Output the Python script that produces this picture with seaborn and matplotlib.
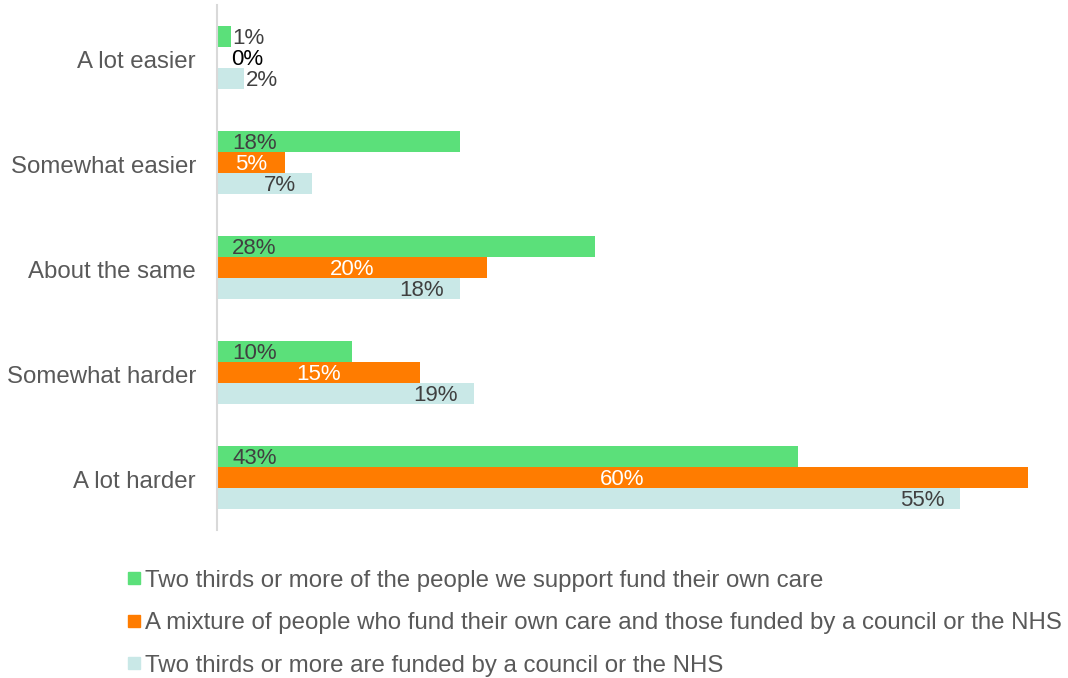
import matplotlib
matplotlib.use("Agg")
import matplotlib.pyplot as plt
from matplotlib.lines import Line2D
import seaborn as sns
import pandas as pd

categories = ["A lot easier", "Somewhat easier", "About the same", "Somewhat harder", "A lot harder"]
series_names = [
    "Two thirds or more of the people we support fund their own care",
    "A mixture of people who fund their own care and those funded by a council or the NHS",
    "Two thirds or more are funded by a council or the NHS",
]
self_funded = [1, 18, 28, 10, 43]
mixed = [0, 5, 20, 15, 60]
council_nhs = [2, 7, 18, 19, 55]

colors = ["#5BE07A", "#FF7C00", "#C9E8E7"]
label_colors = ["#404040", "#FFFFFF", "#404040"]
text_gray = "#595959"

rows = []
for name, vals in zip(series_names, [self_funded, mixed, council_nhs]):
    for cat, v in zip(categories, vals):
        rows.append({"category": cat, "series": name, "value": v})
df = pd.DataFrame(rows)

sns.set_theme(style="white")
plt.rcParams["font.family"] = ["Liberation Sans", "DejaVu Sans"]

fig = plt.figure(figsize=(10.68, 6.78), dpi=100)
ax = fig.add_axes([0.2032, 0.2183, 0.7593, 0.7743])

sns.barplot(data=df, y="category", x="value", hue="series", order=categories,
            hue_order=series_names, palette=colors, orient="h", width=0.6,
            saturation=1, linewidth=0, ax=ax, legend=False)

ax.set_xlim(0, 60)
ax.set_ylim(4.5, -0.5)
ax.set_xlabel("")
ax.set_ylabel("")
ax.set_xticks([])
ax.tick_params(axis="y", length=0, labelleft=False)
for side in ["top", "right", "bottom"]:
    ax.spines[side].set_visible(False)
ax.spines["left"].set_color("#D9D9D9")
ax.spines["left"].set_linewidth(1.5)

# category names to the left of the axis line
for i, cat in enumerate(categories):
    ax.annotate(cat, (0, i), xycoords=("axes fraction", "data"), xytext=(-21, -2),
                textcoords="offset pixels", ha="right", va="center_baseline",
                fontsize=17.3, color=text_gray)

# value labels: first series at the bar base, second centred, third at the bar end
label_size = 16
dy = -2
for s_idx, (vals, lc) in enumerate(zip([self_funded, mixed, council_nhs], label_colors)):
    offset = (s_idx - 1) * 0.2
    for c_idx, v in enumerate(vals):
        y = c_idx + offset
        txt = f"{v}%"
        if s_idx == 0:
            ax.annotate(txt, (0, y), xytext=(15, dy), textcoords="offset pixels",
                        ha="left", va="center", fontsize=label_size, color=lc)
        elif s_idx == 1:
            if v == 0:
                ax.annotate(txt, (0, y), xytext=(30, dy), textcoords="offset pixels",
                            ha="center", va="center", fontsize=label_size, color="#000000")
            else:
                ax.annotate(txt, (v / 2, y), xytext=(0, dy), textcoords="offset pixels",
                            ha="center", va="center", fontsize=label_size, color=lc)
        else:
            if v < 5:
                ax.annotate(txt, (0, y), xytext=(29, dy), textcoords="offset pixels",
                            ha="left", va="center", fontsize=label_size, color=lc)
            else:
                ax.annotate(txt, (v, y), xytext=(-16, dy), textcoords="offset pixels",
                            ha="right", va="center", fontsize=label_size, color=lc)

handles = [Line2D([0], [0], marker="s", linestyle="none", markersize=9,
                  markerfacecolor=c, markeredgecolor=c) for c in colors]
fig.legend(handles, series_names, loc="upper left", bbox_to_anchor=(0.119, 0.160),
           frameon=False, fontsize=17.3, labelcolor=text_gray, handlelength=0.6,
           handletextpad=0.15, labelspacing=0.86, borderaxespad=0, borderpad=0)

fig.savefig("out.png", dpi=100)
